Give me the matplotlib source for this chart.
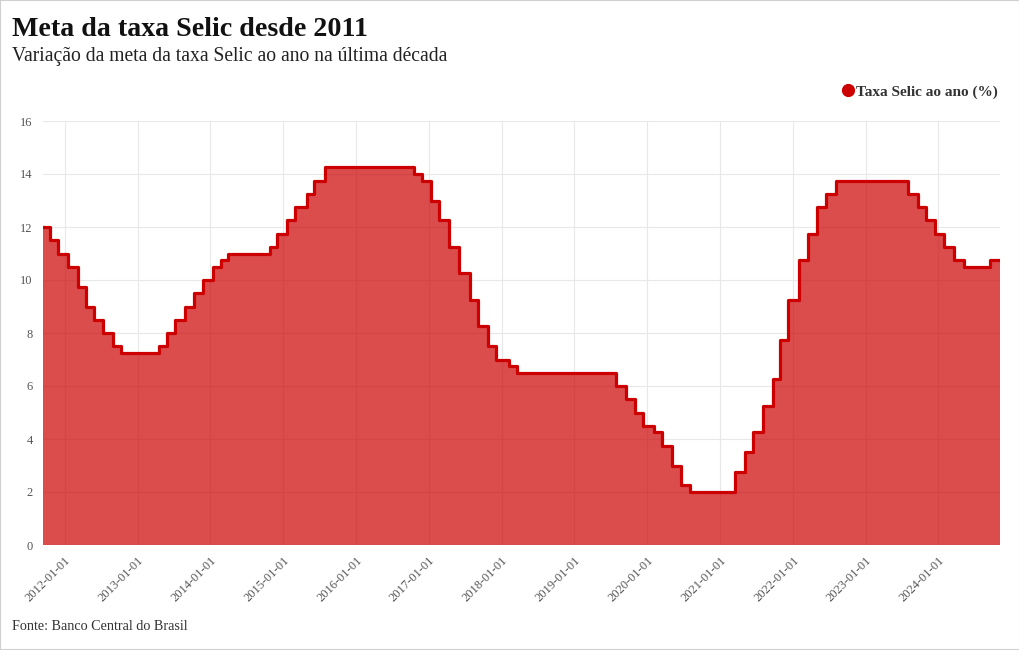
import pandas as pd
import matplotlib.pyplot as plt
import matplotlib.dates as mdates
from matplotlib.lines import Line2D
from matplotlib.patches import Rectangle

# datas de decisao do Copom e meta da Selic (% a.a.)
datas = ['2011-09-15', '2011-10-19', '2011-11-30', '2012-01-18', '2012-03-07',
         '2012-04-18', '2012-05-30', '2012-07-11', '2012-08-29', '2012-10-10',
         '2013-04-17', '2013-05-29', '2013-07-10', '2013-08-28', '2013-10-09',
         '2013-11-27', '2014-01-15', '2014-02-26', '2014-04-02', '2014-10-29',
         '2014-12-03', '2015-01-21', '2015-03-04', '2015-04-29', '2015-06-03',
         '2015-07-29', '2016-10-19', '2016-11-30', '2017-01-11', '2017-02-22',
         '2017-04-12', '2017-05-31', '2017-07-26', '2017-09-06', '2017-10-25',
         '2017-12-06', '2018-02-07', '2018-03-21', '2019-07-31', '2019-09-18',
         '2019-10-30', '2019-12-11', '2020-02-05', '2020-03-18', '2020-05-06',
         '2020-06-17', '2020-08-05', '2021-03-17', '2021-05-05', '2021-06-16',
         '2021-08-04', '2021-09-22', '2021-10-27', '2021-12-08', '2022-02-02',
         '2022-03-16', '2022-05-04', '2022-06-15', '2022-08-03', '2023-08-02',
         '2023-09-20', '2023-11-01', '2023-12-13', '2024-01-31', '2024-03-20',
         '2024-05-08', '2024-09-18', '2024-11-05']
selic = [12.00, 11.50, 11.00, 10.50, 9.75,
         9.00, 8.50, 8.00, 7.50, 7.25,
         7.50, 8.00, 8.50, 9.00, 9.50,
         10.00, 10.50, 10.75, 11.00, 11.25,
         11.75, 12.25, 12.75, 13.25, 13.75,
         14.25, 14.00, 13.75, 13.00, 12.25,
         11.25, 10.25, 9.25, 8.25, 7.50,
         7.00, 6.75, 6.50, 6.00, 5.50,
         5.00, 4.50, 4.25, 3.75, 3.00,
         2.25, 2.00, 2.75, 3.50, 4.25,
         5.25, 6.25, 7.75, 9.25, 10.75,
         11.75, 12.75, 13.25, 13.75, 13.25,
         12.75, 12.25, 11.75, 11.25, 10.75,
         10.50, 10.75, 10.75]
y_ticks = [0, 2, 4, 6, 8, 10, 12, 14, 16]

plt.rcParams['font.family'] = ['Liberation Serif', 'DejaVu Serif']

x = pd.to_datetime(datas)

fig = plt.figure(figsize=(10.2, 6.5), dpi=100)
ax = fig.add_axes([43 / 1020, 105 / 650, 957 / 1020, 424 / 650])

ax.fill_between(x, selic, step='post', color='#cc0000', alpha=0.7, linewidth=0, zorder=2)
ax.plot(x, selic, drawstyle='steps-post', color='#cc0000', linewidth=2.3, zorder=3)

ax.set_xlim(x[0], x[-1])
ax.set_ylim(0, 16)
ax.set_yticks(y_ticks)
ax.xaxis.set_major_locator(mdates.YearLocator())
ax.xaxis.set_major_formatter(mdates.DateFormatter('%Y-%m-%d'))
ax.grid(True, color='#e8e8e8', linewidth=0.8, zorder=0)
ax.set_axisbelow(True)
for s in ax.spines.values():
    s.set_visible(False)
ax.tick_params(axis='both', length=0, colors='#555555', labelsize=9)
ax.tick_params(axis='y', pad=7.5)
ax.tick_params(axis='x', pad=7)
plt.setp(ax.get_xticklabels(), rotation=45, ha='right', rotation_mode='anchor')

# legenda com marcador circular
handle = Line2D([], [], marker='o', linestyle='', color='#cc0000', markersize=8.5)
leg = fig.legend(handles=[handle], labels=['Taxa Selic ao ano (%)'],
                 loc='center right', bbox_to_anchor=(1004 / 1020, 1 - 92 / 650),
                 frameon=False, handlelength=0.6, handletextpad=0.2, borderaxespad=0,
                 prop={'weight': 'bold', 'size': 11})
for t in leg.get_texts():
    t.set_color('#333333')

fig.text(12 / 1020, 1 - 30 / 650, 'Meta da taxa Selic desde 2011', fontsize=20.2,
         weight='bold', color='#111111', va='center')
fig.text(12 / 1020, 1 - 57 / 650, 'Variação da meta da taxa Selic ao ano na última década',
         fontsize=14.1, color='#222222', va='center')
fig.text(12 / 1020, 1 - 626 / 650, 'Fonte: Banco Central do Brasil', fontsize=10.2,
         color='#333333', va='center')

fig.patches.append(Rectangle((0, 0), 1, 1, transform=fig.transFigure, fill=False,
                             edgecolor='#d0d0d0', linewidth=1.5))

plt.savefig('out.png', dpi=100)
